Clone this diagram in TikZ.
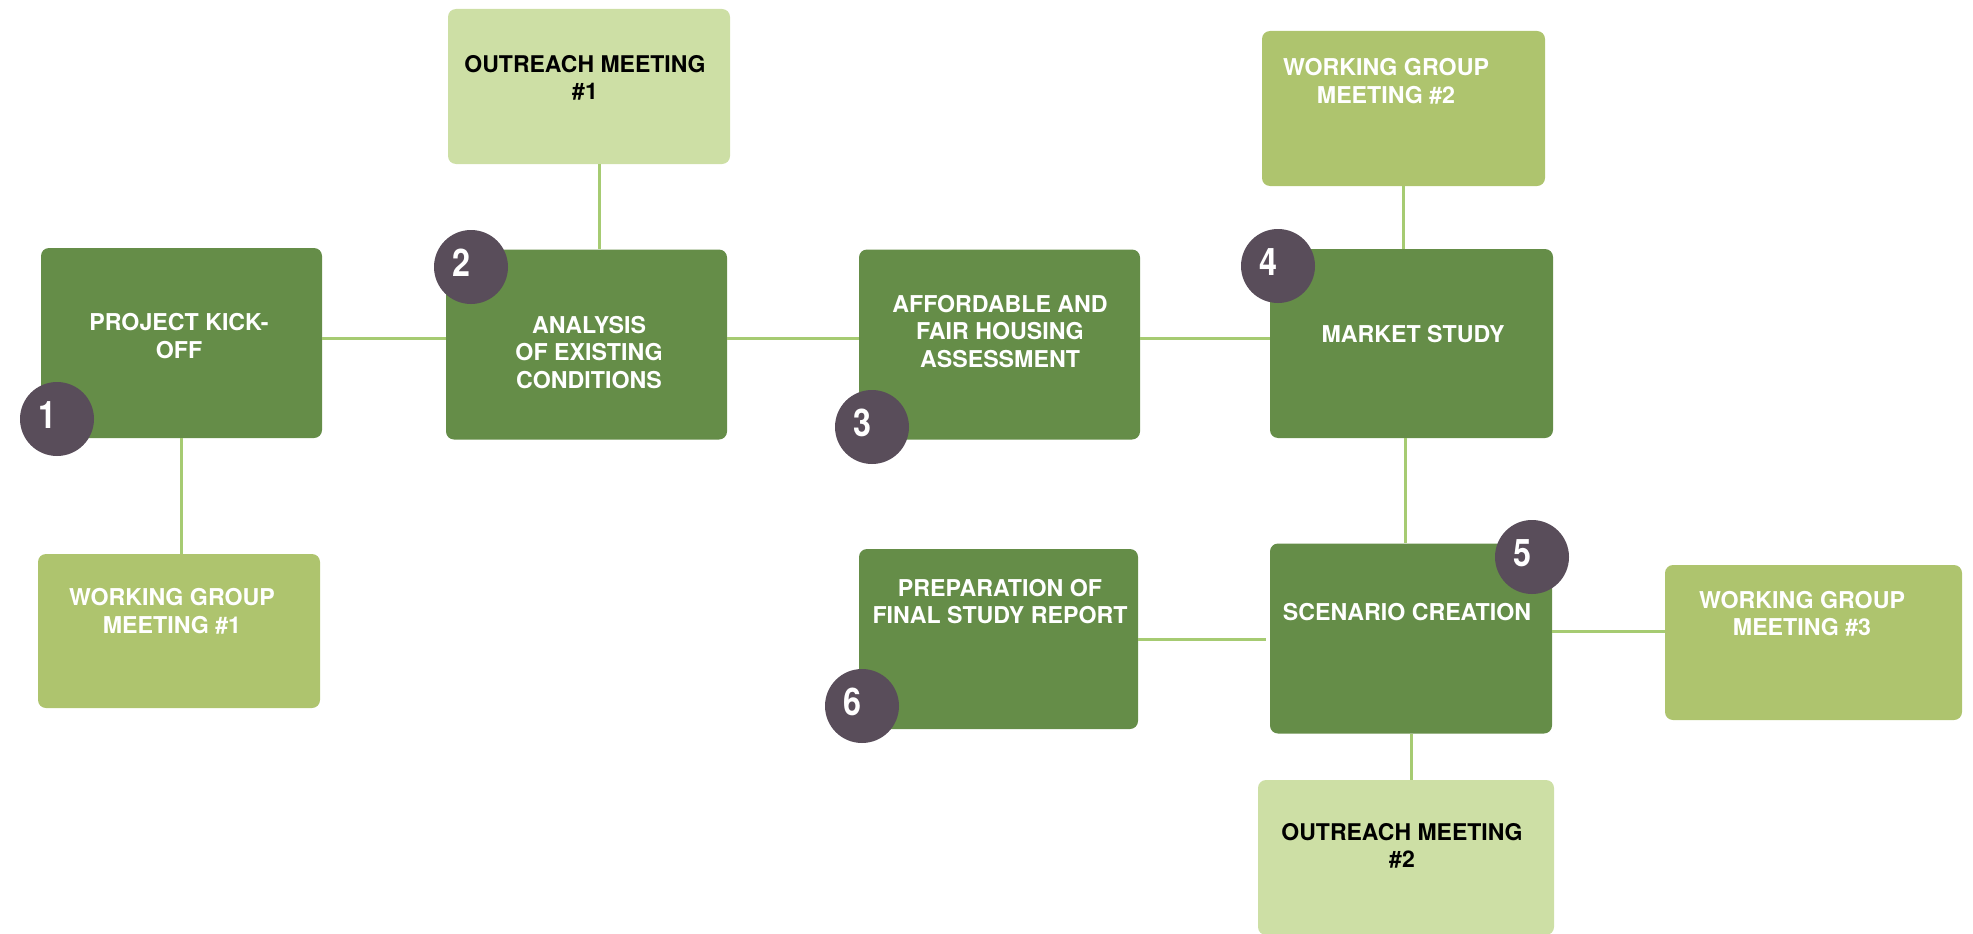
\documentclass[tikz,border=0pt]{standalone}
\usepackage{fontspec}
\setmainfont{TeX Gyre Heros}

\definecolor{StepGreen}{HTML}{658D48}
\definecolor{MeetGreen}{HTML}{AEC46E}
\definecolor{OutGreen}{HTML}{CDDFA5}
\definecolor{LinkGreen}{HTML}{A6CB72}
\definecolor{BadgePlum}{HTML}{594D5A}

\newcommand\badgenum[1]{\scalebox{.85}[1]{#1}}

\begin{document}
\begin{tikzpicture}[x=1pt, y=-1pt]
  \tikzset{BoxStyle/.style   = {rectangle, rounded corners=8pt, draw=none, inner sep=0pt},
           StepStyle/.style  = {BoxStyle, fill=StepGreen, minimum width=281pt, minimum height=190pt},
           MeetStyle/.style  = {BoxStyle, fill=MeetGreen, minimum width=283pt, minimum height=155pt},
           OutStyle/.style   = {BoxStyle, fill=OutGreen, minimum width=282pt, minimum height=155pt},
           TextStyle/.style  = {align=center, text=white, inner sep=0pt,
                                font=\bfseries\fontsize{23.2}{27.5}\selectfont},
           OutText/.style    = {TextStyle, text=black, font=\bfseries\fontsize{23}{27.5}\selectfont},
           BadgeStyle/.style = {circle, fill=BadgePlum, minimum size=74pt, inner sep=0pt},
           NumStyle/.style   = {text=white, inner sep=0pt, font=\bfseries\fontsize{38}{38}\selectfont},
           LinkStyle/.style  = {draw=LinkGreen, line width=3pt}}
  \useasboundingbox (0,0) rectangle (1973,934);
  \clip (0,0) rectangle (1973,934);
  % the six steps
  \node[StepStyle] (kick) at (181.5,343)   {};
  \node[StepStyle] (anal) at (586.5,344.5) {};
  \node[StepStyle] (aff)  at (999.5,344.5) {};
  \node[StepStyle, minimum width=283pt, minimum height=189pt] (mkt) at (1411.5,343.5) {};
  \node[StepStyle, minimum width=282pt] (scen) at (1411,638.5) {};
  \node[StepStyle, minimum width=279pt, minimum height=180pt] (prep) at (998.5,639) {};
  % meetings
  \node[MeetStyle, minimum width=282pt, minimum height=154pt] (wg1) at (179,631) {};
  \node[MeetStyle] (wg2) at (1403.5,108.5) {};
  \node[MeetStyle, minimum width=297pt] (wg3) at (1813.5,642.5) {};
  \node[OutStyle] (out1) at (589,86.5) {};
  \node[OutStyle, minimum width=296pt] (out2) at (1406,857.5) {};
  % texts
  \node[TextStyle] (kick-t) at (179,336)    {PROJECT KICK-\\OFF};
  \node[TextStyle] (anal-t) at (589,352.5)  {ANALYSIS\\OF EXISTING\\CONDITIONS};
  \node[TextStyle] (aff-t)  at (1000,331.5) {AFFORDABLE AND\\FAIR HOUSING\\ASSESSMENT};
  \node[TextStyle] (mkt-t)  at (1413,334)   {MARKET STUDY};
  \node[TextStyle] (scen-t) at (1407,612)   {SCENARIO CREATION};
  \node[TextStyle] (prep-t) at (1000,601.5) {PREPARATION OF\\FINAL STUDY REPORT};
  \node[TextStyle] (wg1-t)  at (172,611.5)  {WORKING GROUP\\MEETING \#1};
  \node[TextStyle] (wg2-t)  at (1386,81.5)  {WORKING GROUP\\MEETING \#2};
  \node[TextStyle] (wg3-t)  at (1802,614)   {WORKING GROUP\\MEETING \#3};
  \node[OutText]   (out1-t) at (585,78)     {OUTREACH MEETING\\\#1};
  \node[OutText]   (out2-t) at (1402,846)   {OUTREACH MEETING\\\#2};
  % connectors
  \draw[LinkStyle] ([yshift=5pt]kick.east) -- ([yshift=5pt]kick.east -| anal.west);
  \draw[LinkStyle] ([yshift=6.5pt]anal.east) -- ([yshift=6.5pt]anal.east -| aff.west);
  \draw[LinkStyle] ([yshift=6.5pt]aff.east) -- ([yshift=6.5pt]aff.east -| mkt.west);
  \draw[LinkStyle] (kick.south) -- (kick.south |- wg1.north);
  \draw[LinkStyle] ([xshift=13pt]anal.north) -- ([xshift=13pt]anal.north |- out1.south);
  \draw[LinkStyle] (wg2.south) -- (wg2.south |- mkt.north);
  \draw[LinkStyle] ([xshift=-6pt]mkt.south) -- ([xshift=-6pt]mkt.south |- scen.north);
  \draw[LinkStyle] (scen.south) -- (scen.south |- out2.north);
  \draw[LinkStyle] ([yshift=7.5pt]scen.east) -- ([yshift=7.5pt]scen.east -| wg3.west);
  \draw[LinkStyle] (prep.east) -- ([xshift=-4pt]prep.east -| scen.west);
  % numbered badges
  \foreach \n/\x/\y in {1/57/419, 2/471/267, 3/872/427, 4/1278/266, 5/1532/557, 6/862/706}{
    \node[BadgeStyle] (b\n) at (\x,\y) {};
    \node[NumStyle] (b\n-t) at ([xshift=-10pt,yshift=4pt]b\n.center) {\badgenum{\n}};
  }
\end{tikzpicture}
\end{document}
